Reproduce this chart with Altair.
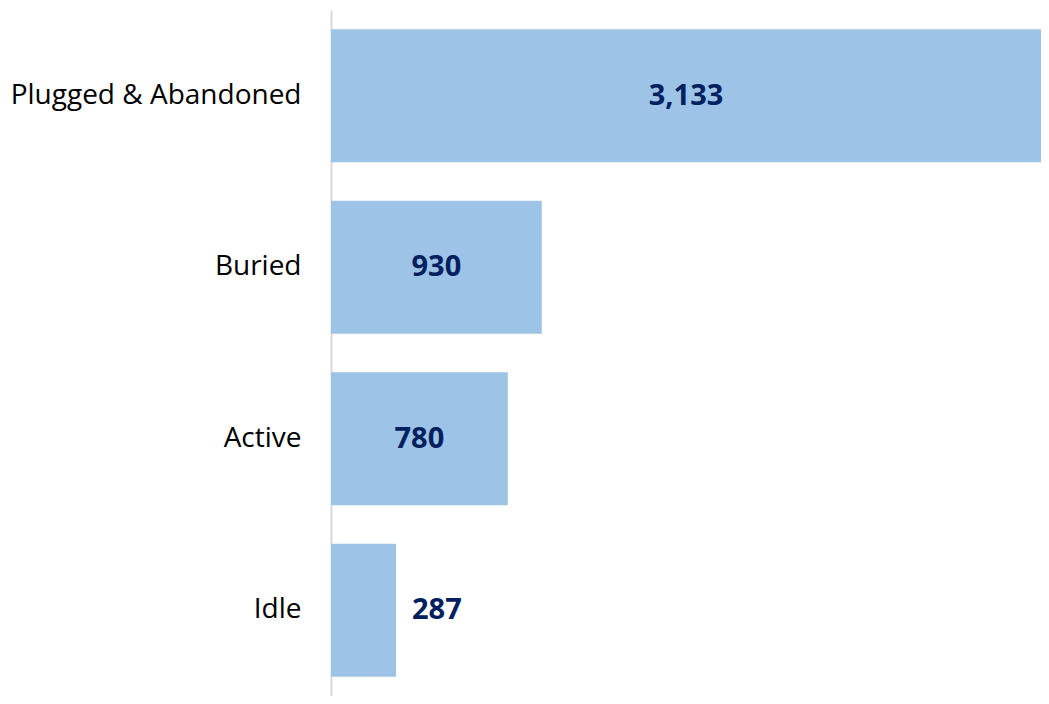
import altair as alt
import pandas as pd

categories = ["Plugged & Abandoned", "Buried", "Active", "Idle"]
values = [3133, 930, 780, 287]

df = pd.DataFrame({"category": categories, "value": values})

FONT = "Open Sans"
BAR = "#9dc3e6"
LBL = "#002060"

y_axis = alt.Axis(
    labelFont=FONT,
    labelFontSize=28,
    labelColor="#000000",
    labelPadding=30,
    ticks=False,
    domainColor="#d9d9d9",
    domainWidth=2,
    grid=False,
    labelLimit=400,
)
y_scale = alt.Scale(paddingInner=0.224, paddingOuter=0.112)
x_scale = alt.Scale(domain=[0, 3133], nice=False, zero=True)

base = alt.Chart(df)

bars = base.mark_bar(color=BAR).encode(
    x=alt.X("value:Q", scale=x_scale, axis=None),
    y=alt.Y("category:N", sort=categories, title=None, scale=y_scale, axis=y_axis),
)

inside = (
    base.transform_filter("datum.value > 500")
    .transform_calculate(mid="datum.value / 2")
    .mark_text(font=FONT, fontSize=29, fontWeight="bold", color=LBL, align="center", baseline="middle")
    .encode(
        x=alt.X("mid:Q", scale=x_scale, axis=None),
        y=alt.Y("category:N", sort=categories, title=None, scale=y_scale, axis=y_axis),
        text=alt.Text("value:Q", format=","),
    )
)

outside = (
    base.transform_filter("datum.value <= 500")
    .mark_text(font=FONT, fontSize=29, fontWeight="bold", color=LBL, align="left", baseline="middle", dx=16)
    .encode(
        x=alt.X("value:Q", scale=x_scale, axis=None),
        y=alt.Y("category:N", sort=categories, title=None, scale=y_scale, axis=y_axis),
        text=alt.Text("value:Q", format=","),
    )
)

chart = (
    alt.layer(bars, inside, outside, view=alt.ViewBackground(stroke="transparent", strokeWidth=0))
    .properties(
        width=710,
        height=686,
        autosize=alt.AutoSizeParams(type="none"),
        padding={"left": 323, "top": 2, "right": 0, "bottom": 0},
    )
    .configure_view(strokeWidth=0, stroke="transparent")
    .configure(background="white")
)

chart.save("out.html", embed_options={"renderer": "svg", "actions": False})
